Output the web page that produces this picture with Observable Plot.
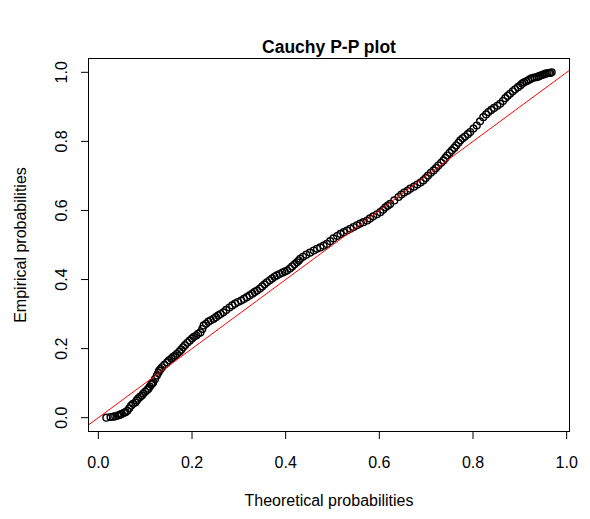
<!DOCTYPE html>
<html>
<head>
<meta charset="utf-8">
<script src="https://cdn.jsdelivr.net/npm/d3@7"></script>
<script src="https://cdn.jsdelivr.net/npm/@observablehq/plot@0.6"></script>
<style>
  html, body { margin: 0; padding: 0; background: #fff; }
</style>
</head>
<body>
<div id="chart"></div>
<script>
const chartTitle = "Cauchy P-P plot";
const xLabel = "Theoretical probabilities";
const yLabel = "Empirical probabilities";
const xTicks = [0, 0.2, 0.4, 0.6, 0.8, 1.0];
const yTicks = [0, 0.2, 0.4, 0.6, 0.8, 1.0];
const refIntercept = 0;
const refSlope = 1;

const theoretical = [
  0.017,0.026,0.032,0.036,0.041,0.044,0.047,0.050,0.055,0.058,0.062,0.066,0.070,0.074,0.079,0.082,0.085,0.089,0.093,0.096,
  0.100,0.104,0.107,0.110,0.113,0.115,0.117,0.121,0.125,0.128,0.130,0.133,0.136,0.141,0.147,0.151,0.156,0.160,0.164,0.168,
  0.173,0.177,0.181,0.185,0.190,0.195,0.200,0.204,0.209,0.213,0.218,0.222,0.225,0.230,0.235,0.240,0.246,0.251,0.256,0.261,
  0.267,0.273,0.280,0.286,0.292,0.298,0.305,0.311,0.317,0.323,0.329,0.334,0.339,0.345,0.350,0.355,0.360,0.366,0.371,0.376,
  0.381,0.387,0.393,0.398,0.403,0.409,0.414,0.419,0.424,0.428,0.431,0.437,0.444,0.452,0.460,0.467,0.474,0.481,0.488,0.495,
  0.502,0.510,0.517,0.524,0.531,0.538,0.545,0.552,0.559,0.566,0.574,0.580,0.587,0.595,0.602,0.608,0.613,0.618,0.623,0.632,
  0.641,0.647,0.653,0.660,0.666,0.674,0.681,0.688,0.694,0.699,0.704,0.710,0.716,0.721,0.726,0.732,0.737,0.741,0.745,0.750,
  0.755,0.760,0.764,0.769,0.773,0.778,0.783,0.789,0.794,0.801,0.808,0.815,0.822,0.828,0.833,0.839,0.845,0.852,0.858,0.864,
  0.869,0.874,0.879,0.885,0.890,0.896,0.901,0.905,0.909,0.914,0.918,0.922,0.926,0.931,0.936,0.940,0.943,0.947,0.951,0.955,
  0.958,0.962,0.965,0.968];
const empirical = [
  0.000,0.002,0.003,0.004,0.006,0.007,0.009,0.011,0.014,0.016,0.020,0.027,0.035,0.040,0.044,0.050,0.055,0.060,0.064,0.070,
  0.075,0.080,0.084,0.090,0.096,0.099,0.102,0.112,0.122,0.130,0.136,0.141,0.146,0.153,0.160,0.166,0.171,0.176,0.180,0.185,
  0.191,0.197,0.204,0.210,0.217,0.223,0.229,0.234,0.238,0.243,0.247,0.257,0.267,0.272,0.278,0.282,0.286,0.291,0.296,0.300,
  0.305,0.312,0.319,0.325,0.330,0.335,0.339,0.344,0.349,0.354,0.359,0.364,0.368,0.374,0.380,0.386,0.392,0.398,0.403,0.408,
  0.412,0.416,0.420,0.423,0.426,0.432,0.438,0.444,0.450,0.455,0.460,0.466,0.472,0.478,0.484,0.489,0.493,0.498,0.503,0.511,
  0.519,0.526,0.532,0.537,0.542,0.547,0.552,0.557,0.562,0.566,0.571,0.577,0.583,0.589,0.595,0.602,0.609,0.614,0.619,0.629,
  0.639,0.646,0.652,0.657,0.663,0.669,0.675,0.681,0.687,0.694,0.701,0.709,0.716,0.723,0.730,0.738,0.745,0.752,0.759,0.767,
  0.774,0.781,0.788,0.796,0.803,0.809,0.814,0.821,0.827,0.837,0.846,0.858,0.870,0.878,0.885,0.891,0.897,0.903,0.909,0.917,
  0.925,0.932,0.938,0.945,0.951,0.957,0.962,0.967,0.971,0.974,0.977,0.980,0.983,0.985,0.986,0.988,0.990,0.992,0.994,0.996,
  0.997,0.998,0.998,1.000];

const points = theoretical.map((x, i) => ({x, y: empirical[i]}));

// R-style 4% padding of the data range
function pad(ext) { const p = (ext[1] - ext[0]) * 0.04; return [ext[0] - p, ext[1] + p]; }
const xDomain = pad(d3.extent(theoretical));
const yDomain = pad(d3.extent(empirical));
const refLine = xDomain.map(x => ({x, y: refIntercept + refSlope * x}));
const fmt = d3.format(".1f");

const chart = Plot.plot({
  width: 590,
  height: 519,
  marginLeft: 88,
  marginRight: 21,
  marginTop: 58,
  marginBottom: 88,
  style: {fontFamily: "'Liberation Sans', Arial, sans-serif", fontSize: "16px", background: "#fff", color: "#000"},
  x: {domain: xDomain, axis: null},
  y: {domain: yDomain, axis: null},
  marks: [
    Plot.dot(points, {x: "x", y: "y", r: 3.4, stroke: "#000", strokeWidth: 1.4, fill: "none"}),
    Plot.line(refLine, {x: "x", y: "y", stroke: "#ff0000", strokeWidth: 1}),
    Plot.frame({stroke: "#000", strokeWidth: 1}),
    Plot.axisX(xTicks, {anchor: "bottom", tickSize: 8, tickFormat: () => "", label: null, stroke: "#000"}),
    Plot.axisY(yTicks, {anchor: "left", tickSize: 7, tickFormat: () => "", label: null, stroke: "#000"}),
    Plot.text(xTicks, {x: d => d, frameAnchor: "bottom", dy: 31, text: d => fmt(d), lineAnchor: "middle", fontSize: 16, fill: "#000"}),
    Plot.text(yTicks, {y: d => d, frameAnchor: "left", dx: -27, text: d => fmt(d), rotate: -90, lineAnchor: "middle", textAnchor: "middle", fontSize: 16, fill: "#000"}),
    Plot.text([chartTitle], {frameAnchor: "top", dy: -11, text: d => d, lineAnchor: "middle", fontWeight: "bold", fontSize: 17.5, fill: "#000"}),
    Plot.text([xLabel], {frameAnchor: "bottom", dy: 69, text: d => d, lineAnchor: "middle", fontSize: 16, fill: "#000"}),
    Plot.text([yLabel], {frameAnchor: "left", dx: -68, text: d => d, rotate: -90, lineAnchor: "middle", textAnchor: "middle", fontSize: 16, fill: "#000"})
  ]
});
document.getElementById("chart").appendChild(chart);
</script>
</body>
</html>
